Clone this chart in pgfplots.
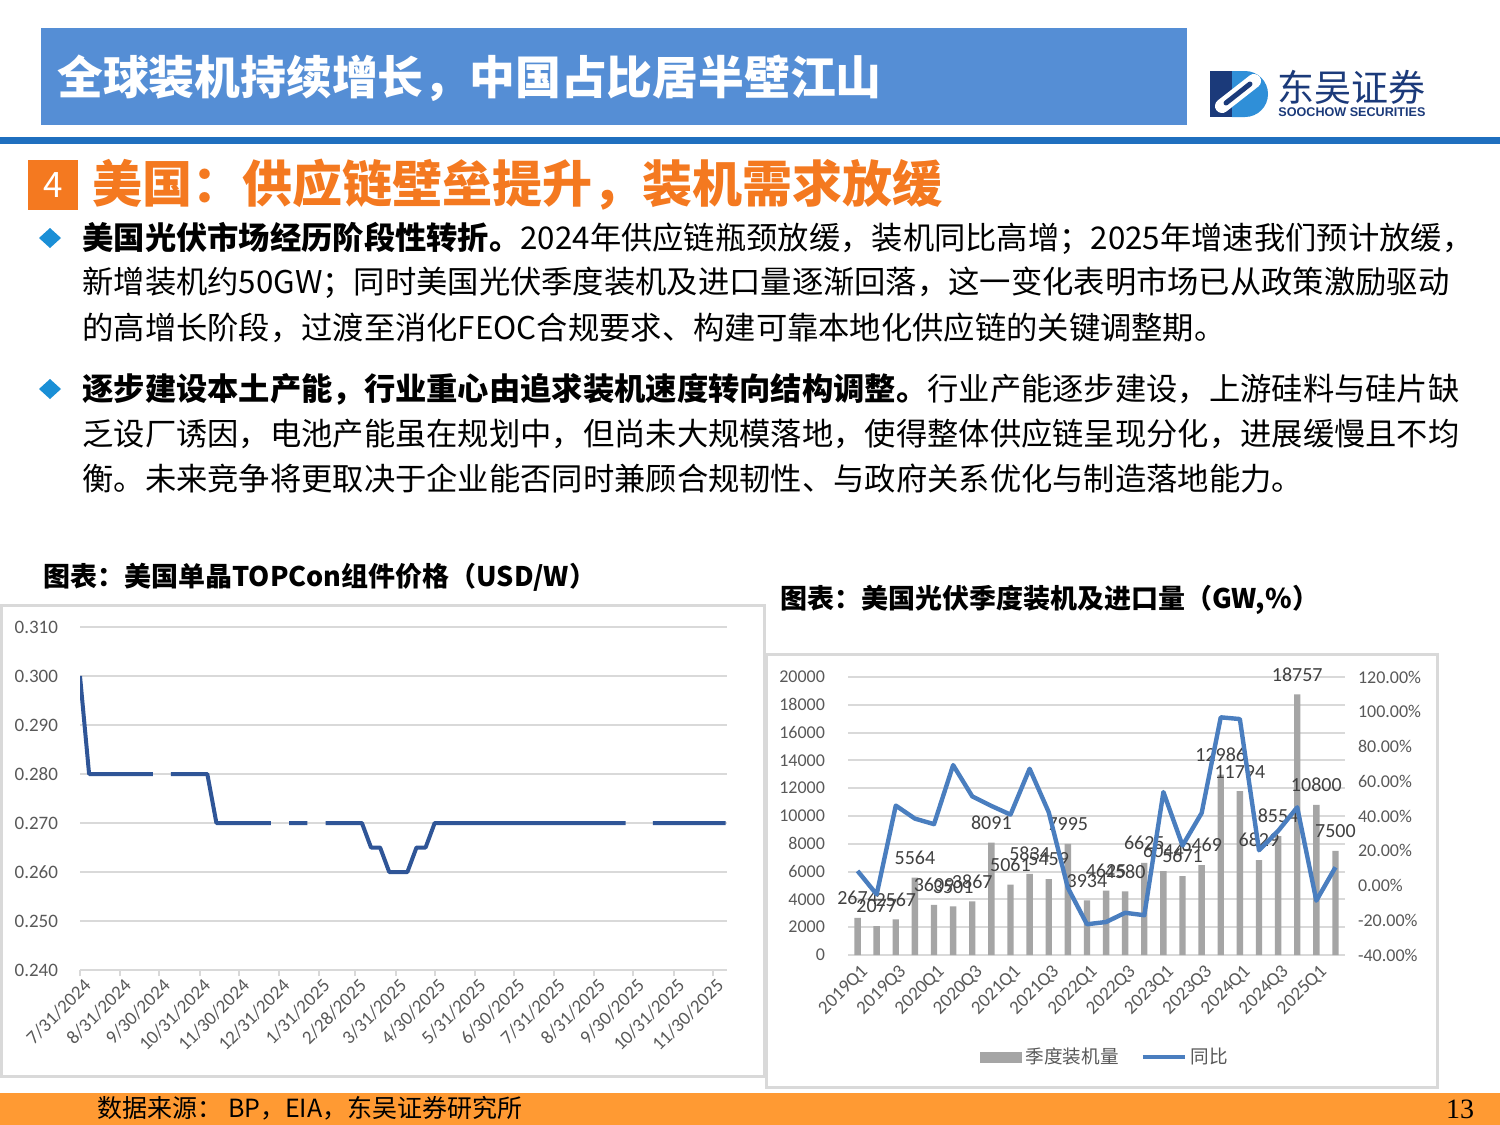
\documentclass[border=0pt]{standalone}
\usepackage{fontspec}
\setmainfont{Noto Sans CJK SC}
\newfontfamily\carlito{Carlito}
\newfontfamily\lserif{Liberation Serif}
\newfontfamily\lsans{Liberation Sans}
\usepackage{pgfplots}
\pgfplotsset{compat=1.18}
\usepackage{pgfplotstable}
\definecolor{hdrblue}{HTML}{558ED5}
\definecolor{lineblue}{HTML}{1F6FBF}
\definecolor{orng}{HTML}{F47920}
\definecolor{footorng}{HTML}{FF9A33}
\definecolor{bullet}{HTML}{1A8FD6}
\definecolor{navy}{HTML}{1B3A7A}
\definecolor{logoblue}{HTML}{2F8FD8}
\definecolor{gridc}{HTML}{D9D9D9}
\definecolor{tickc}{HTML}{595959}
\definecolor{barc}{HTML}{A5A5A5}
\definecolor{yoy}{HTML}{4A7EBF}
\definecolor{price}{HTML}{2F5597}
\definecolor{labc}{HTML}{404040}
\definecolor{boxc}{HTML}{D9D9D9}

\pgfplotstableread{
x y lab
0 2674 2674
1 2077 2077
2 2567 2567
3 5564 5564
4 3609 3609
5 3501 3501
6 3867 3867
7 8091 8091
8 5061 5061
9 5834 5834
10 5459 5459
11 7995 7995
12 3934 3934
13 4625 4625
14 4580 4580
15 6625 6625
16 6044 6044
17 5671 5671
18 6469 6469
19 12986 12986
20 11794 11794
21 6829 6829
22 8554 8554
23 18757 18757
24 10800 10800
25 7500 7500
}\installs

\pgfplotstableread{
x y
0 8.4
1 -5.1
2 46.0
3 38.5
4 35.3
5 69.3
6 51.3
7 45.8
8 40.8
9 67.2
10 42.2
11 -1.3
12 -22.3
13 -21.0
14 -15.7
15 -17.1
16 53.8
17 23.0
18 41.7
19 96.8
20 95.8
21 20.3
22 31.4
23 45.0
24 -8.7
25 10.5
}\yoydata

\pgfplotstableread{
d p
0 0.300
7 0.280
14 0.280
21 0.280
28 0.280
35 0.280
42 0.280
49 0.280
56 0.280
63 nan
70 0.280
77 0.280
84 0.280
91 0.280
98 0.280
105 0.270
112 0.270
119 0.270
126 0.270
133 0.270
140 0.270
147 0.270
154 nan
161 0.270
168 0.270
175 0.270
182 nan
189 0.270
196 0.270
203 0.270
210 0.270
217 0.270
224 0.265
231 0.265
238 0.260
245 0.260
252 0.260
259 0.265
266 0.265
273 0.270
280 0.270
287 0.270
294 0.270
301 0.270
308 0.270
315 0.270
322 0.270
329 0.270
336 0.270
343 0.270
350 0.270
357 0.270
364 0.270
371 0.270
378 0.270
385 0.270
392 0.270
399 0.270
406 0.270
413 0.270
420 0.270
427 nan
434 nan
441 0.270
448 0.270
455 0.270
462 0.270
469 0.270
476 0.270
483 0.270
490 0.270
497 0.270
}\pricedata

\begin{document}
\begin{tikzpicture}
\path[use as bounding box] (0,0) rectangle (750pt,-562.5pt);
\fill[white] (0,0) rectangle (750pt,-562.5pt);
\begin{scope}[x=0.5pt,y=-0.5pt]
% header
\fill[hdrblue] (41,28) rectangle (1187,125);
\node[anchor=west, inner sep=0, text=white, font=\bfseries\fontsize{22.9}{26}\selectfont] at (57,78) {全球装机持续增长，中国占比居半壁江山};
\fill[lineblue] (0,137) rectangle (1500,144);
% logo
\fill[navy] (1210,71) rectangle (1240,117);
\fill[logoblue] (1232,71) -- (1245,71) arc[start angle=-90, end angle=90, radius=23] -- (1232,117) -- cycle;
\draw[white, line width=7, line cap=round] (1222,106) -- (1254,81);
\draw[navy, line width=2.5, line cap=round] (1226,103) -- (1250,84);
\node[anchor=west, inner sep=0, text=navy, font=\fontsize{18.5}{20}\selectfont] at (1277,87) {东吴证券};
\node[anchor=west, inner sep=0, text=navy, font=\lsans\bfseries\fontsize{6.3}{7}\selectfont] at (1278,112) {SOOCHOW SECURITIES};
% section title
\fill[orng] (28,160) rectangle (78,210);
\node[text=white, inner sep=0, font=\fontsize{17.5}{20}\selectfont] at (53,185) {4};
\node[anchor=west, inner sep=0, text=orng, font=\bfseries\fontsize{25}{28}\selectfont] at (92,185) {美国：供应链壁垒提升，装机需求放缓};
% bullets
\fill[bullet] (39,238) -- (50,228) -- (61,238) -- (50,248) -- cycle;
\fill[bullet] (39,389) -- (50,379) -- (61,389) -- (50,399) -- cycle;
\begin{scope}[every node/.style={anchor=west, inner sep=0, font=\fontsize{15.65}{18}\selectfont}]
\node at (82,238) {{\bfseries 美国光伏市场经历阶段性转折。}2024年供应链瓶颈放缓，装机同比高增；2025年增速我们预计放缓，};
\node at (82,283) {新增装机约50GW；同时美国光伏季度装机及进口量逐渐回落，这一变化表明市场已从政策激励驱动};
\node at (82,328) {的高增长阶段，过渡至消化FEOC合规要求、构建可靠本地化供应链的关键调整期。};
\node at (82,389) {{\bfseries 逐步建设本土产能，行业重心由追求装机速度转向结构调整。}行业产能逐步建设，上游硅料与硅片缺};
\node at (82,434) {乏设厂诱因，电池产能虽在规划中，但尚未大规模落地，使得整体供应链呈现分化，进展缓慢且不均};
\node at (82,479) {衡。未来竞争将更取决于企业能否同时兼顾合规韧性、与政府关系优化与制造落地能力。};
\end{scope}
% chart titles
\node[anchor=west, inner sep=0, font=\bfseries\fontsize{13.5}{16}\selectfont] at (43,577) {图表：美国单晶TOPCon组件价格（USD/W）};
\node[anchor=west, inner sep=0, font=\bfseries\fontsize{13.5}{16}\selectfont] at (780,600) {图表：美国光伏季度装机及进口量（GW,\%）};
% boxes
\draw[boxc, line width=1.5] (1,605) rectangle (764,1076);
\draw[boxc, line width=1.5] (766,654) rectangle (1437,1087);
% footer
\fill[footorng] (0,1093) rectangle (1500,1125);
\node[anchor=west, inner sep=0, font=\fontsize{12.5}{14}\selectfont] at (97,1108) {数据来源： BP，EIA，东吴证券研究所};
\node[inner sep=0, font=\lserif\fontsize{14}{16}\selectfont] at (1460,1109) {13};
\end{scope}

% ---------- left chart ----------
\begin{axis}[at={(40pt,-485pt)}, anchor=south west, scale only axis,
  width=323.5pt, height=171.5pt,
  xmin=0, xmax=498, ymin=0.24, ymax=0.31,
  axis x line*=bottom, axis y line*=left,
  y axis line style={draw=none},
  x axis line style={draw=gridc, line width=1pt},
  ytick={0.24,0.25,0.26,0.27,0.28,0.29,0.30,0.31},
  yticklabels={0.240,0.250,0.260,0.270,0.280,0.290,0.300,0.310},
  ymajorgrids, grid style={draw=gridc, line width=1pt},
  ytick style={draw=none},
  xtick={0,31,61,92,122,153,184,212,243,273,304,334,365,396,426,457,487},
  xticklabels={7/31/2024,8/31/2024,9/30/2024,10/31/2024,11/30/2024,12/31/2024,1/31/2025,2/28/2025,3/31/2025,4/30/2025,5/31/2025,6/30/2025,7/31/2025,8/31/2025,9/30/2025,10/31/2025,11/30/2025},
  xtick style={draw=gridc, line width=1pt}, tick align=outside, major tick length=3pt,
  tick label style={font=\carlito\fontsize{9.5}{11}\selectfont, text=tickc},
  yticklabel style={xshift=-4.5pt},
  xticklabel style={rotate=45, anchor=east, inner sep=1pt, yshift=-5pt, xshift=1.5pt},
  unbounded coords=jump]
\addplot[price, line width=2pt, line join=round] table[x=d,y=p]{\pricedata};
\end{axis}

% ---------- right chart: bars ----------
\begin{axis}[at={(424pt,-477.5pt)}, anchor=south west, scale only axis,
  width=248.5pt, height=139pt,
  xmin=-0.5, xmax=25.5, ymin=0, ymax=20000,
  scaled y ticks=false,
  ybar, bar width=3.2pt,
  axis x line*=bottom, axis y line*=left,
  y axis line style={draw=none},
  x axis line style={draw=gridc, line width=1pt},
  ytick={0,2000,4000,6000,8000,10000,12000,14000,16000,18000,20000},
  yticklabels={0,2000,4000,6000,8000,10000,12000,14000,16000,18000,20000},
  ymajorgrids, grid style={draw=gridc, line width=1pt},
  ytick style={draw=none}, xtick style={draw=none},
  xtick={0,2,4,6,8,10,12,14,16,18,20,22,24},
  xticklabels={2019Q1,2019Q3,2020Q1,2020Q3,2021Q1,2021Q3,2022Q1,2022Q3,2023Q1,2023Q3,2024Q1,2024Q3,2025Q1},
  tick label style={font=\carlito\fontsize{9}{11}\selectfont, text=tickc},
  yticklabel style={xshift=-8pt},
  xticklabel style={rotate=45, anchor=east, inner sep=1pt, yshift=-4.5pt, xshift=2pt, font=\carlito\fontsize{9.5}{11}\selectfont},
  nodes near coords, point meta=explicit symbolic,
  nodes near coords style={font=\carlito\fontsize{10}{12}\selectfont, text=labc, yshift=3pt}]
\addplot[fill=barc, draw=none] table[x=x,y=y,meta=lab]{\installs};
\end{axis}

% ---------- right chart: yoy line ----------
\begin{axis}[at={(424pt,-477.5pt)}, anchor=south west, scale only axis,
  width=248.5pt, height=139pt,
  xmin=-0.5, xmax=25.5, ymin=-40, ymax=120,
  axis y line*=right, axis x line=none,
  y axis line style={draw=none}, ytick style={draw=none},
  ytick={-40,-20,0,20,40,60,80,100,120},
  yticklabels={-40.00\%,-20.00\%,0.00\%,20.00\%,40.00\%,60.00\%,80.00\%,100.00\%,120.00\%},
  yticklabel style={font=\carlito\fontsize{9}{11}\selectfont, text=tickc, xshift=3pt},
  legend style={at={(0.519,-0.367)}, anchor=center, draw=none, fill=none,
    font=\fontsize{9.3}{11}\selectfont, text=tickc, legend columns=2,
    /tikz/every even column/.append style={column sep=9pt}}]
\addlegendimage{legend image code/.code={\fill[barc] (0pt,-2.5pt) rectangle (20.5pt,2.5pt);}}
\addlegendentry{季度装机量}
\addplot[yoy, line width=2.2pt, line join=round,
  legend image code/.code={\draw[yoy, line width=2pt] (0pt,0pt) -- (21pt,0pt);}] table[x=x,y=y]{\yoydata};
\addlegendentry{同比}
\end{axis}
\end{tikzpicture}
\end{document}
